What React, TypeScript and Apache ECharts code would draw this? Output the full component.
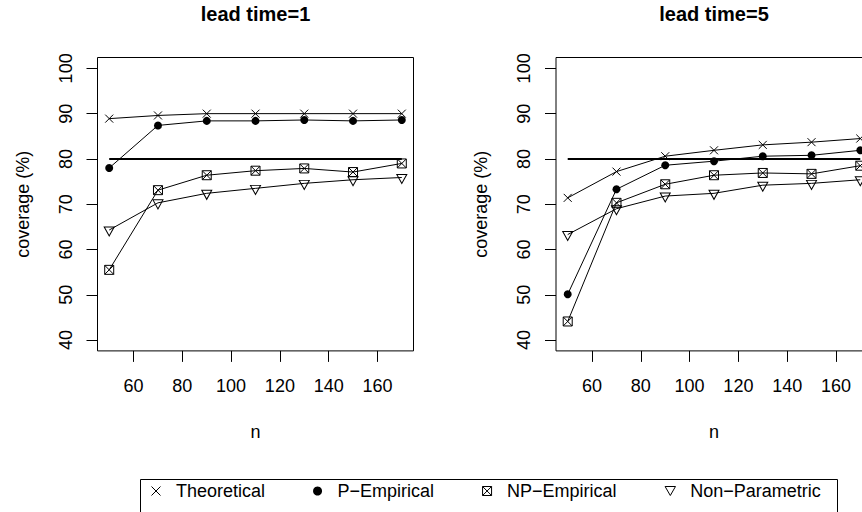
import React, { useEffect, useRef } from "react";
import * as echarts from "echarts";

// ---- data ----
const nValues = [50, 70, 90, 110, 130, 150, 170];
const xTickValues = [60, 80, 100, 120, 140, 160];
const yTickValues = [40, 50, 60, 70, 80, 90, 100];
const targetLevel = [80, 80, 80, 80, 80, 80, 80];

const seriesNames = ["Theoretical", "P\u2212Empirical", "NP\u2212Empirical", "Non\u2212Parametric"];
const panelTitles = ["lead time=1", "lead time=5"];

const lt1Theoretical = [88.9, 89.6, 90.0, 90.0, 90.0, 90.0, 90.0];
const lt1PEmpirical = [78.0, 87.4, 88.4, 88.4, 88.6, 88.4, 88.6];
const lt1NPEmpirical = [55.5, 73.1, 76.4, 77.4, 77.9, 77.1, 79.0];
const lt1NonParametric = [64.3, 70.3, 72.4, 73.5, 74.6, 75.4, 75.9];

const lt5Theoretical = [71.4, 77.2, 80.6, 81.9, 83.1, 83.7, 84.5];
const lt5PEmpirical = [50.1, 73.3, 78.6, 79.5, 80.6, 80.8, 81.9];
const lt5NPEmpirical = [44.1, 70.3, 74.4, 76.4, 76.9, 76.7, 78.5];
const lt5NonParametric = [63.3, 69.0, 71.8, 72.4, 74.2, 74.6, 75.4];

const panels = [
  [lt1Theoretical, lt1PEmpirical, lt1NPEmpirical, lt1NonParametric],
  [lt5Theoretical, lt5PEmpirical, lt5NPEmpirical, lt5NonParametric],
];

// ---- styles ----
const FONT = "'Liberation Sans', Arial, Helvetica, sans-serif";
const SYM_CROSS = "path://M0,0L10,10M10,0L0,10";
const SYM_BOXX = "path://M0,0L10,0L10,10L0,10ZM0,0L10,10M10,0L0,10";
const SYM_TRI = "path://M0,0L10,0L5,8.66Z";

const openStyle = { color: "transparent", borderColor: "#000", borderWidth: 1 };
const solidStyle = { color: "#000", borderColor: "#000", borderWidth: 0 };

const markerDefs = [
  { symbol: SYM_CROSS, size: 8, offset: [0, 0], style: openStyle },
  { symbol: "circle", size: 8, offset: [0, 0], style: solidStyle },
  { symbol: SYM_BOXX, size: 9, offset: [0, 0], style: openStyle },
  { symbol: SYM_TRI, size: [10, 9], offset: [0, 1.5], style: openStyle },
];

const gridLefts = [97.5, 556];
const GRID_TOP = 57.5;
const GRID_W = 316;
const GRID_H = 293.4;
const Y_MIN = 37.6;
const Y_MAX = 102.4;

export default function App() {
  const ref = useRef<HTMLDivElement>(null);

  useEffect(() => {
    document.body.style.margin = "0";
    const chart = echarts.init(ref.current!, null, { renderer: "svg" });

    const grids = gridLefts.map((left) => ({
      left,
      top: GRID_TOP,
      width: GRID_W,
      height: GRID_H,
      outerBoundsMode: "none",
      containLabel: false,
      show: true,
      borderColor: "#000",
      borderWidth: 1,
      backgroundColor: "transparent",
    }));

    const xAxes = gridLefts.map((_, i) => ({
      type: "value",
      gridIndex: i,
      min: 45.2,
      max: 174.8,
      name: "n",
      nameLocation: "middle",
      nameGap: 72,
      nameMoveOverlap: false,
      nameTextStyle: { fontSize: 18, color: "#000", fontFamily: FONT },
      axisLine: { show: false },
      axisTick: {
        show: true,
        inside: false,
        length: 11,
        lineStyle: { color: "#000", width: 1 },
        customValues: xTickValues,
      },
      axisLabel: {
        customValues: xTickValues,
        fontSize: 18,
        color: "#000",
        fontFamily: FONT,
        margin: 26,
      },
      splitLine: { show: false },
    }));

    const yAxes = gridLefts.map((_, i) => ({
      type: "value",
      gridIndex: i,
      min: Y_MIN,
      max: Y_MAX,
      name: "coverage (%)",
      nameLocation: "middle",
      nameGap: 66,
      nameRotate: 90,
      nameMoveOverlap: false,
      nameTextStyle: { fontSize: 18, color: "#000", fontFamily: FONT },
      axisLine: { show: false },
      axisTick: {
        show: true,
        inside: false,
        length: 11,
        lineStyle: { color: "#000", width: 1 },
        customValues: yTickValues,
      },
      axisLabel: {
        customValues: yTickValues,
        rotate: 90,
        fontSize: 18,
        color: "#000",
        fontFamily: FONT,
        margin: 23,
      },
      splitLine: { show: false },
    }));

    const series: any[] = [];
    panels.forEach((panel, p) => {
      series.push({
        type: "line",
        name: "target",
        xAxisIndex: p,
        yAxisIndex: p,
        data: nValues.map((n, k) => [n, targetLevel[k]]),
        symbol: "none",
        lineStyle: { color: "#000", width: 2 },
        emphasis: { disabled: true },
        silent: true,
        z: 1,
      });
      panel.forEach((vals, s) => {
        const m = markerDefs[s];
        series.push({
          type: "line",
          name: seriesNames[s],
          xAxisIndex: p,
          yAxisIndex: p,
          data: nValues.map((n, k) => [n, vals[k]]),
          symbol: m.symbol,
          symbolSize: m.size,
          symbolOffset: m.offset,
          showAllSymbol: true,
          itemStyle: m.style,
          lineStyle: { color: "#000", width: 1 },
          emphasis: { disabled: true },
          silent: true,
          z: 2,
        });
      });
    });

    chart.setOption({
      animation: false,
      backgroundColor: "#fff",
      textStyle: { fontFamily: FONT, color: "#000" },
      grid: grids,
      xAxis: xAxes,
      yAxis: yAxes,
      series,
      legend: {
        left: 151,
        top: 482,
        padding: 0,
        orient: "horizontal",
        itemWidth: 30,
        itemHeight: 9,
        symbolKeepAspect: true,
        itemGap: 48,
        selectedMode: false,
        textStyle: { fontSize: 18, color: "#000", fontFamily: FONT },
        data: seriesNames.map((name, s) => ({
          name,
          icon: markerDefs[s].symbol,
          itemStyle: markerDefs[s].style,
        })),
      },
      graphic: [
        ...panelTitles.map((t, i) => ({
          type: "text",
          x: gridLefts[i] + GRID_W / 2,
          y: 14,
          style: {
            text: t,
            fill: "#000",
            font: `bold 20px ${FONT}`,
            textAlign: "center",
            textVerticalAlign: "middle",
          },
        })),
        {
          type: "rect",
          shape: { x: 140.5, y: 479.5, width: 697, height: 60 },
          style: { fill: "none", stroke: "#000", lineWidth: 1 },
          silent: true,
        },
      ],
    });

    return () => chart.dispose();
  }, []);

  return (
    <div
      ref={ref}
      style={{ position: "absolute", left: 0, top: 0, width: 862, height: 512 }}
    />
  );
}
